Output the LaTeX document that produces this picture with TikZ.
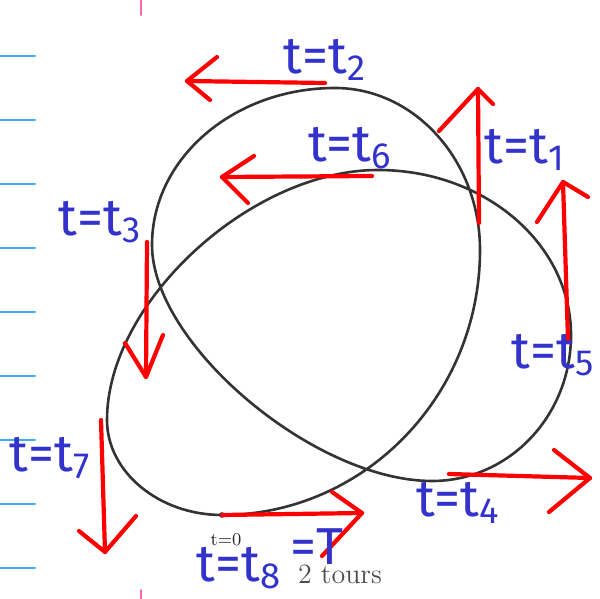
\documentclass[tikz,border=0pt]{standalone}
\usepackage{fontspec}
\newfontfamily\handfont{Fira Sans}
\definecolor{penred}{RGB}{255,0,0}
\definecolor{penblue}{RGB}{51,51,204}
\definecolor{ruleblue}{RGB}{64,170,255}
\definecolor{marginpink}{RGB}{255,100,180}
\newcommand{\tval}[1]{t=t\textsubscript{#1}}

\begin{document}
\begin{tikzpicture}[x=0.5pt, y=-0.5pt, line cap=round, line join=round,
    rule/.style={ruleblue, line width=1pt},
    margin/.style={marginpink, line width=1pt},
    curve/.style={black!80, line width=1.3pt},
    pen/.style={penred, line width=2.1pt},
    hand/.style={penblue, inner sep=0pt,
                 font=\handfont\fontsize{26}{28}\selectfont}]
  \useasboundingbox (0,0) rectangle (600,599);

  %% ruled paper
  \foreach \y in {56,120,...,568}
    \draw[rule] (0,\y) -- (35,\y);
  \draw[margin] (141,0) -- (141,15);
  \draw[margin] (141,590) -- (141,599);

  %% extreme points of the curve
  \coordinate (e0) at (222,515);
  \coordinate (e1) at (480,250);
  \coordinate (e2) at (335,88);
  \coordinate (e3) at (152,245);
  \coordinate (e4) at (432,481);
  \coordinate (e5) at (571,335);
  \coordinate (e6) at (378,170);
  \coordinate (e7) at (107,420);

  %% the curve (two tours)
  \draw[curve] (e0) .. controls +(142,0) and +(0,146) .. (e1)
                    .. controls +(0,-89) and +(80,0) .. (e2)
                    .. controls +(-101,0) and +(0,-87) .. (e3)
                    .. controls +(0,99) and +(-118,0) .. (e4)
                    .. controls +(77,0) and +(0,81) .. (e5)
                    .. controls +(0,-91) and +(107,0) .. (e6)
                    .. controls +(-127,0) and +(0,-118) .. (e7)
                    .. controls +(0,52) and +(-63,0) .. (e0) -- cycle;
  \fill[black!85] (e0) circle[radius=1.4pt];
  \node[text=black!85, font=\fontsize{9}{10}\selectfont]
    (start) at (226,540) {t=0};
  \node[text=black!70, font=\fontsize{14}{16}\selectfont]
    (tours) at (340,574) {2 tours};

  %% tangent arrows
  \draw[pen] (e0) -- (362,513);
  \draw[pen] (332,492) -- (362,513) -- (322,556);
  \draw[pen] (479,223) -- (478,89);
  \draw[pen] (439,131) -- (478,89) -- (493,104);
  \draw[pen] (325,83) -- (187,81);
  \draw[pen] (217,57) -- (187,81) -- (210,100);
  \draw[pen] (147,242) -- (146,377);
  \draw[pen] (125,343) -- (146,377) -- (163,335);
  \draw[pen] (449,474) -- (590,478);
  \draw[pen] (554,450) -- (590,478) -- (549,512);
  \draw[pen] (568,340) -- (563,182);
  \draw[pen] (537,222) -- (563,182) -- (588,197);
  \draw[pen] (372,176) -- (222,177);
  \draw[pen] (254,156) -- (222,177) -- (248,203);
  \draw[pen] (101,420) -- (105,552);
  \draw[pen] (79,531) -- (105,552) -- (136,516);

  %% labels
  \node[hand] (l1) at (525,150) {\tval{1}};
  \node[hand] (l2) at (325,60)  {\tval{2}};
  \node[hand] (l3) at (100,222) {\tval{3}};
  \node[hand] (l4) at (458,503) {\tval{4}};
  \node[hand] (l5) at (553,355) {\tval{5}};
  \node[hand] (l6) at (350,148) {\tval{6}};
  \node[hand] (l7) at (50,458)  {\tval{7}};
  \node[hand] (l8) at (270,559) {\tval{8}\,\raisebox{0.6ex}{=T}};
\end{tikzpicture}
\end{document}
